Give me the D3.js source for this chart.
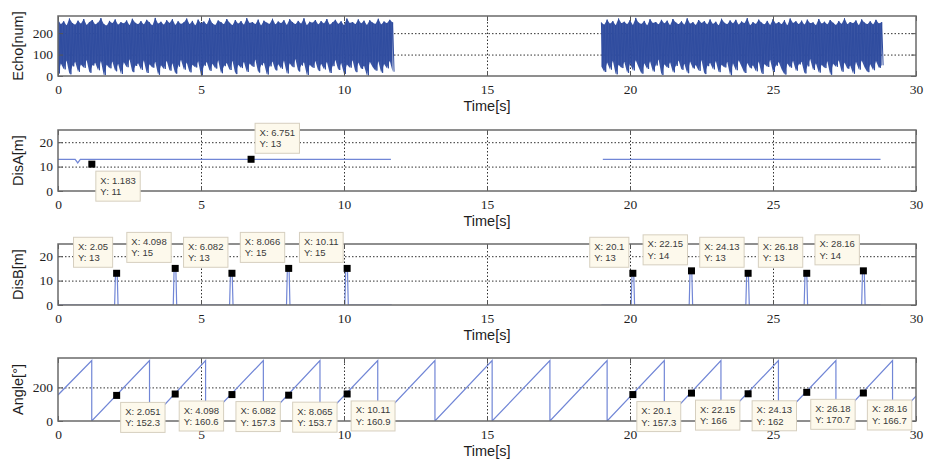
<!DOCTYPE html>
<html>
<head>
<meta charset="utf-8">
<script src="https://cdnjs.cloudflare.com/ajax/libs/d3/7.8.5/d3.min.js"></script>
<style>
body { margin: 0; background: #fff; }
.grid line { stroke: #1a1a1a; stroke-width: 0.9; stroke-dasharray: 1.5,2; }
.grid path { display: none; }
.inner line { stroke: #555; stroke-width: 1; }
.inner path { display: none; }
.lbl path, .lbl line { display: none; }
.lbl text { font-family: "Liberation Serif", "Times New Roman", serif; font-size: 13.5px; fill: #1e1e1e; }
.title { font-family: "Liberation Sans", Arial, sans-serif; font-size: 14.5px; fill: #1e1e1e; }
.tip text { font-family: "Liberation Sans", Arial, sans-serif; font-size: 9.5px; fill: #3a3a3a; }
</style>
</head>
<body>
<script>
// x axis (time, seconds)
var timeTicks = [0, 5, 10, 15, 20, 25, 30];

// Echo[num]: peak / trough of the raw echo, one pair every 0.1 s
var echoStep = 0.1;
var echoStart1 = 0;
var echoHi1 = [262,241,255,236,268,247,239,258,244,266, 238,252,261,240,249,270,243,235,257,246,
               264,239,251,245,259,237,267,248,242,256, 240,262,250,236,271,244,253,239,260,247,
               265,238,255,243,250,268,241,257,236,263, 246,254,240,269,245,238,259,251,242,266,
               248,237,261,244,256,239,270,247,252,241, 263,236,258,249,243,267,240,254,246,260,
               238,265,251,242,257,244,269,237,253,248, 261,240,256,245,266,239,250,262,243,255,
               237,268,247,252,241,264,245,258,238,260, 249,243,267,240,254,246,262,250];
var echoLo1 = [12,58,31,72,8,45,66,20,54,38, 75,15,49,62,27,70,4,52,36,68,
               22,57,10,64,41,78,18,47,60,29, 73,14,55,39,67,6,50,33,71,25,
               59,11,44,76,30,63,17,53,40,69, 3,48,65,24,57,35,74,13,46,61,
               28,71,9,52,37,66,19,58,43,77, 16,50,62,7,45,68,26,55,34,72,
               12,60,41,79,21,49,64,5,53,38, 70,23,57,31,67,14,46,75,28,61,
               10,54,39,73,18,63,33,48,2,66, 42,25,69,15,56,36,71,20];
var echoStart2 = 19.0;
var echoHi2 = [250,239,263,244,256,237,268,246,253,241, 260,238,271,249,243,257,236,265,247,252,
               240,262,245,258,237,266,250,242,255,239, 269,244,251,238,261,247,256,240,264,243,
               253,236,267,248,241,259,245,262,239,254, 246,270,237,251,243,263,249,240,257,238,
               265,244,252,241,260,236,268,247,255,242, 258,239,263,246,250,237,266,244,253,240,
               261,248,238,256,243,269,241,252,246,259, 237,264,249,242,255,240,262,245,251];
var echoLo2 = [44,19,63,30,71,8,52,37,66,15, 58,26,74,41,11,60,33,69,21,49,
               77,5,55,38,64,17,47,72,29,57, 13,68,35,51,24,75,9,46,62,31,
               70,18,53,40,66,3,59,27,73,44, 14,61,36,50,22,68,10,56,42,76,
               19,48,65,32,7,58,39,71,25,54, 67,12,45,79,28,60,16,52,37,69,
               6,57,43,74,20,63,34,49,11,66, 30,72,41,18,55,27,70,38,50];

// DisA[m]
var disA1 = [[0, 13], [0.6, 13], [0.69, 11.5], [0.78, 13], [11.64, 13]];
var disA2 = [[19.05, 13], [28.76, 13]];
var disATips = [[1.183, 11], [6.751, 13]];

// DisB[m]
var disB1 = [[0, 0],
  [1.98, 0], [2.01, 13], [2.07, 13], [2.1, 0],
  [4.03, 0], [4.06, 15], [4.12, 15], [4.15, 0],
  [6.0, 0], [6.03, 13], [6.09, 13], [6.12, 0],
  [7.99, 0], [8.02, 15], [8.08, 15], [8.11, 0],
  [10.03, 0], [10.06, 15], [10.12, 15], [10.15, 0],
  [11.67, 0]];
var disB2 = [[19.0, 0],
  [20.04, 0], [20.07, 13], [20.13, 13], [20.16, 0],
  [22.07, 0], [22.1, 14], [22.16, 14], [22.19, 0],
  [24.05, 0], [24.08, 13], [24.14, 13], [24.17, 0],
  [26.09, 0], [26.12, 13], [26.18, 13], [26.21, 0],
  [28.1, 0], [28.13, 14], [28.19, 14], [28.22, 0],
  [28.76, 0]];
var disBTips = [[2.05, 13], [4.098, 15], [6.082, 13], [8.066, 15], [10.11, 15],
                [20.1, 13], [22.15, 14], [24.13, 13], [26.18, 13], [28.16, 14]];

// Angle[°]
var angle = [[0, 155], [1.18, 360], [1.18, 0], [3.2, 360], [3.2, 0], [5.16, 360], [5.16, 0],
  [7.18, 360], [7.18, 0], [9.16, 360], [9.16, 0], [11.18, 360], [11.18, 0], [13.18, 360], [13.18, 0],
  [15.18, 360], [15.18, 0], [17.2, 360], [17.2, 0], [19.2, 360], [19.2, 0], [21.2, 360], [21.2, 0],
  [23.18, 360], [23.18, 0], [25.19, 360], [25.19, 0], [27.2, 360], [27.2, 0], [29.18, 360], [29.18, 0],
  [30, 148]];
var angleTips = [[2.051, 152.3], [4.098, 160.6], [6.082, 157.3], [8.065, 153.7], [10.11, 160.9],
                 [20.1, 157.3], [22.15, 166], [24.13, 162], [26.18, 170.7], [28.16, 166.7]];

var margin = {left: 58},
    width = 916 - 58;

var x = d3.scaleLinear().domain([0, 30]).range([0, width]);

var svg = d3.select("body").append("svg")
    .attr("width", 926)
    .attr("height", 463);

var defs = svg.append("defs");

function makePanel(id, top, h, yDomain, yTicks, label) {
    var y = d3.scaleLinear().domain(yDomain).range([h, 0]);
    var g = svg.append("g")
        .attr("transform", "translate(" + margin.left + "," + top + ")");

    defs.append("clipPath").attr("id", "clip" + id)
        .append("rect").attr("width", width).attr("height", h);

    // dotted grid
    g.append("g").attr("class", "grid")
        .attr("transform", "translate(0," + h + ")")
        .call(d3.axisBottom(x).tickValues([5, 10, 15, 20, 25]).tickSize(-h).tickFormat(""));
    g.append("g").attr("class", "grid")
        .call(d3.axisLeft(y).tickValues(yTicks.filter(function(v) { return v > yDomain[0]; }))
            .tickSize(-width).tickFormat(""));

    var plot = g.append("g").attr("clip-path", "url(#clip" + id + ")");

    return {g: g, y: y, h: h, top: top, plot: plot, yTicks: yTicks, label: label};
}

function finishPanel(p) {
    var g = p.g, h = p.h;
    // inward ticks
    g.append("g").attr("class", "inner").attr("transform", "translate(0," + h + ")")
        .call(d3.axisTop(x).tickValues(timeTicks).tickSize(5).tickFormat(""));
    g.append("g").attr("class", "inner")
        .call(d3.axisBottom(x).tickValues(timeTicks).tickSize(5).tickFormat(""));
    g.append("g").attr("class", "inner")
        .call(d3.axisRight(p.y).tickValues(p.yTicks).tickSize(5).tickFormat(""));
    g.append("g").attr("class", "inner").attr("transform", "translate(" + width + ",0)")
        .call(d3.axisLeft(p.y).tickValues(p.yTicks).tickSize(5).tickFormat(""));

    // box
    g.append("rect")
        .attr("width", width).attr("height", h)
        .attr("fill", "none").attr("stroke", "#6a6a6a").attr("stroke-width", 1.5);

    // tick labels
    g.append("g").attr("class", "lbl").attr("transform", "translate(0," + h + ")")
        .call(d3.axisBottom(x).tickValues(timeTicks).tickSize(0).tickPadding(8).tickFormat(d3.format("d")));
    g.append("g").attr("class", "lbl")
        .call(d3.axisLeft(p.y).tickValues(p.yTicks).tickSize(0).tickPadding(5).tickFormat(d3.format("d")));

    g.append("text").attr("class", "title")
        .attr("x", width / 2).attr("y", h + 35)
        .attr("text-anchor", "middle")
        .text("Time[s]");

    svg.append("text").attr("class", "title")
        .attr("transform", "translate(23," + (p.top + h / 2) + ") rotate(-90)")
        .attr("text-anchor", "middle")
        .text(p.label);
}

var echoColor = "#2f4c9f",
    lineColor = "#7186d6";

// Panel 1: Echo
var p1 = makePanel(1, 16, 60, [0, 280], [0, 100, 200], "Echo[num]");
function echoTrace(start, lo, hi) {
    // solid band between the envelopes
    var area = d3.area()
        .x(function(d, i) { return x(start + i * echoStep); })
        .y0(function(d, i) { return p1.y(lo[i]); })
        .y1(function(d) { return p1.y(d); });
    p1.plot.append("path")
        .attr("d", area(hi))
        .attr("fill", echoColor)
        .attr("opacity", 0.95);

    // raw zig-zag on top for the spiky edges
    var pts = [];
    hi.forEach(function(v, i) {
        pts.push([start + i * echoStep, v]);
        pts.push([start + (i + 0.5) * echoStep, lo[i]]);
    });
    var line = d3.line()
        .x(function(d) { return x(d[0]); })
        .y(function(d) { return p1.y(d[1]); });
    p1.plot.append("path")
        .attr("d", line(pts))
        .attr("fill", "none")
        .attr("stroke", echoColor)
        .attr("stroke-width", 1);
}
echoTrace(echoStart1, echoLo1, echoHi1);
echoTrace(echoStart2, echoLo2, echoHi2);
finishPanel(p1);

function drawLine(p, data) {
    var line = d3.line()
        .x(function(d) { return x(d[0]); })
        .y(function(d) { return p.y(d[1]); });
    p.plot.append("path")
        .attr("d", line(data))
        .attr("fill", "none")
        .attr("stroke", lineColor)
        .attr("stroke-width", 1.2);
}

// Panel 2: DisA
var p2 = makePanel(2, 130, 61, [0, 25], [0, 10, 20], "DisA[m]");
drawLine(p2, disA1);
drawLine(p2, disA2);
finishPanel(p2);

// Panel 3: DisB
var p3 = makePanel(3, 244, 61, [0, 25], [0, 10, 20], "DisB[m]");
drawLine(p3, disB1);
drawLine(p3, disB2);
finishPanel(p3);

// Panel 4: Angle
var p4 = makePanel(4, 358, 63, [0, 375], [0, 200], "Angle[°]");
drawLine(p4, angle);
finishPanel(p4);

// data tips
function addTip(p, t, side) {
    var mx = margin.left + x(t[0]),
        my = p.top + p.y(t[1]);
    var tip = svg.append("g").attr("class", "tip");
    var box = tip.append("rect");
    var t1 = tip.append("text").text("X: " + t[0]);
    var t2 = tip.append("text").text("Y: " + t[1]);
    var w = Math.max(t1.node().getComputedTextLength(), t2.node().getComputedTextLength()) + 9,
        bh = 30;
    var bx = side[1] === "r" ? mx + 4 : mx - 4 - w;
    var by = side[0] === "u" ? my - 6 - bh : my + 7;
    box.attr("x", bx).attr("y", by).attr("width", w).attr("height", bh)
        .attr("fill", "#fdf9ec").attr("stroke", "#d6cfbf").attr("stroke-width", 1);
    t1.attr("x", bx + 4.5).attr("y", by + 12.5);
    t2.attr("x", bx + 4.5).attr("y", by + 24);
    svg.append("rect")
        .attr("x", mx - 3.5).attr("y", my - 3.5)
        .attr("width", 7).attr("height", 7)
        .attr("fill", "#000");
}

var disASides = ["dr", "ur"];
disATips.forEach(function(t, i) { addTip(p2, t, disASides[i]); });
disBTips.forEach(function(t) { addTip(p3, t, "ul"); });
angleTips.forEach(function(t) { addTip(p4, t, "dr"); });
</script>
</body>
</html>
